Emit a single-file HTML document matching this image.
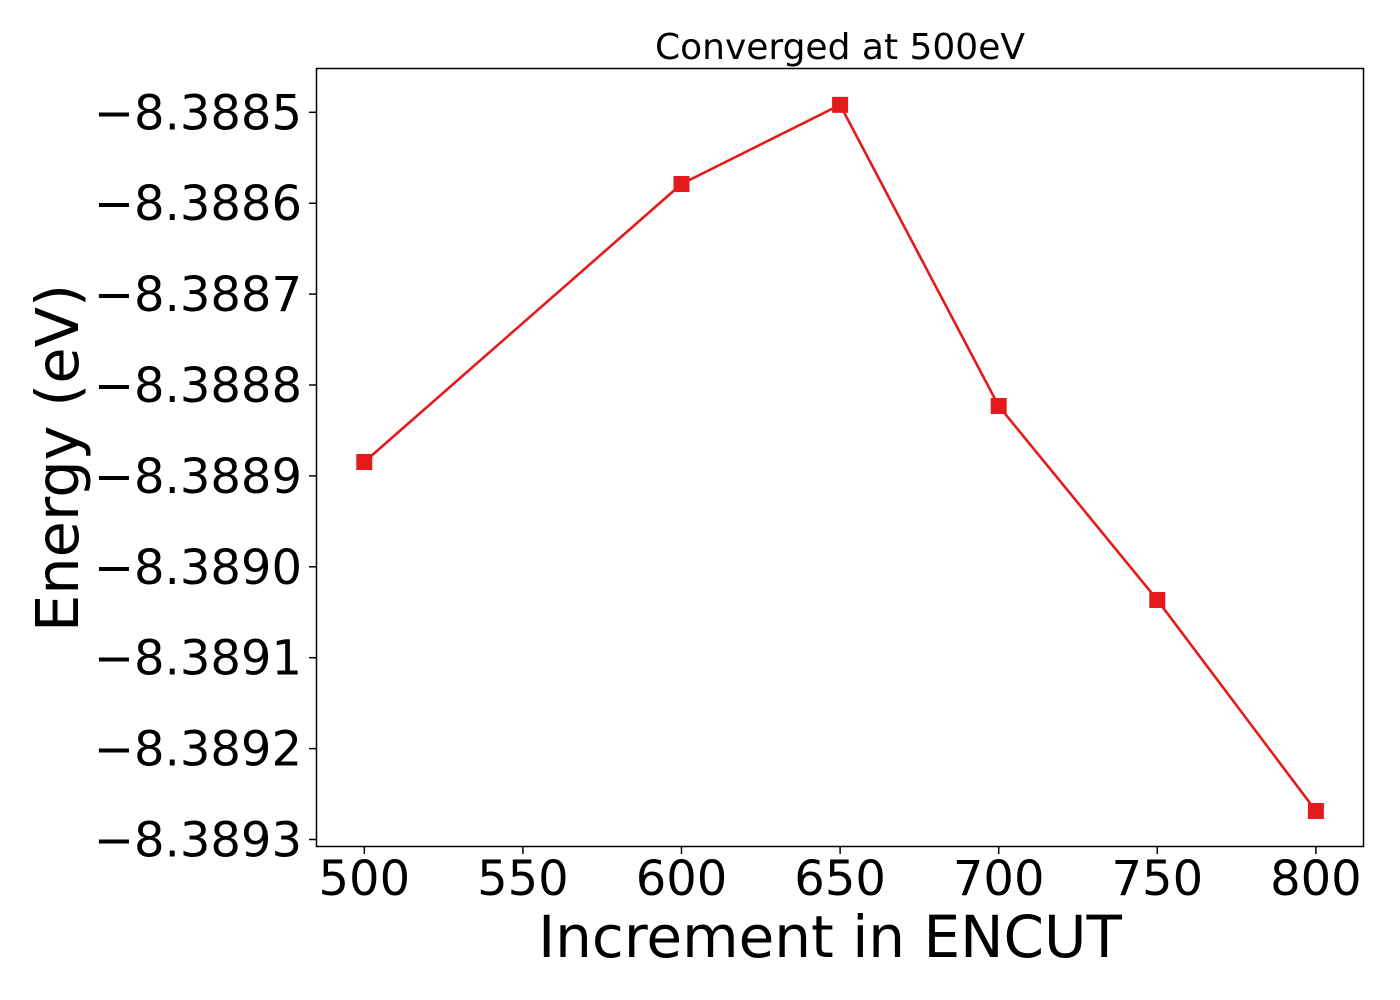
<!DOCTYPE html>
<html><head><meta charset="utf-8"><style>
html,body{margin:0;padding:0;background:#fff;}
svg{display:block;font-family:"DejaVu Sans","Liberation Sans",sans-serif;}
</style></head><body>
<svg id="chart" width="1400" height="1000">
<rect x="316.5" y="68.5" width="1047" height="778" fill="none" stroke="#000" stroke-width="1.5"/>
<text x="840" y="59" font-size="36" text-anchor="middle">Converged at 500eV</text>
<text x="830" y="957" font-size="58" text-anchor="middle">Increment in ENCUT</text>
<text transform="translate(78,458) rotate(-90)" font-size="59" text-anchor="middle">Energy (eV)</text>
<g id="xt"></g><g id="yt"></g><g id="series"></g>
</svg>
<script>
const xTicks=[500,550,600,650,700,750,800];
const yTicks=[-8.3885,-8.3886,-8.3887,-8.3888,-8.3889,-8.3890,-8.3891,-8.3892,-8.3893];
const encut=[500,600,650,700,750,800];
const energy=[-8.3888847,-8.3885789,-8.3884918,-8.3888231,-8.3890365,-8.3892686];
const NS="http://www.w3.org/2000/svg";
function X(v){return 364.3+(v-500)*158.6/50;}
function Y(v){return 112.3+(-8.3885-v)/0.0001*90.9;}
function mk(t,a,p){const e=document.createElementNS(NS,t);for(const k in a)e.setAttribute(k,a[k]);p.appendChild(e);return e;}
const xt=document.getElementById('xt'),yt=document.getElementById('yt'),sg=document.getElementById('series');
xTicks.forEach(v=>{
 const l=mk('line',{x1:X(v),x2:X(v),y1:847,y2:854,stroke:'#000','stroke-width':1.5},xt);
 
 
 const t=mk('text',{x:X(v),y:895,'font-size':48,'text-anchor':'middle'},xt);t.textContent=v;
 
 
});
yTicks.forEach(v=>{
 const l=mk('line',{x1:309,x2:316,y1:Y(v),y2:Y(v),stroke:'#000','stroke-width':1.5},yt);
 
 
 const t=mk('text',{x:302,y:Y(v)+17,'font-size':48,'text-anchor':'end'},yt);t.textContent='\u2212'+Math.abs(v).toFixed(4);
 
 
});
const pl=mk('polyline',{points:encut.map((x,i)=>X(x)+','+Y(energy[i])).join(' '),fill:'none',stroke:'#e41a1c','stroke-width':2.6},sg);


encut.forEach((x,i)=>{
 const r=mk('rect',{x:X(x)-8,y:Y(energy[i])-8,width:16,height:16,fill:'#e41a1c'},sg);
 
 
});
</script>
</body></html>
